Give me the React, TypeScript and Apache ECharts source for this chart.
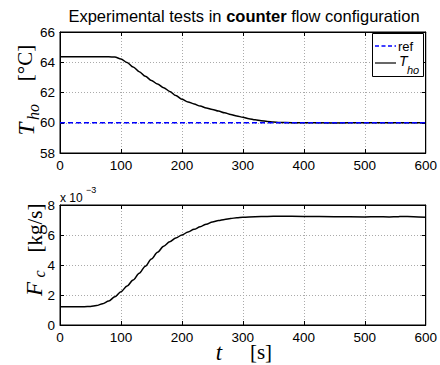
import React, { useEffect, useRef } from "react";
import * as echarts from "echarts";

// ---- data ----
const tTop = [0, 20, 40, 60, 80, 90, 100, 110, 120, 130, 140, 150, 160, 170, 180, 190, 200, 210, 220, 230, 240, 250, 260, 270, 280, 290, 300, 310, 320, 330, 340, 350, 360, 380, 400, 450, 500, 550, 600];
const thoVals = [64.37, 64.37, 64.36, 64.36, 64.36, 64.34, 64.22, 63.98, 63.68, 63.38, 63.07, 62.8, 62.56, 62.32, 62.07, 61.8, 61.56, 61.38, 61.24, 61.1, 60.98, 60.88, 60.77, 60.66, 60.55, 60.45, 60.36, 60.27, 60.2, 60.14, 60.09, 60.05, 60.02, 60.0, 60.0, 59.99, 60.0, 60.0, 60.0];
const refT = [0, 600];
const refVals = [60, 60];
const tBot = [0, 20, 40, 50, 60, 70, 80, 90, 100, 110, 120, 130, 140, 150, 160, 170, 180, 190, 200, 210, 220, 230, 240, 250, 260, 270, 280, 290, 300, 320, 340, 360, 400, 450, 500, 520, 540, 555, 560, 580, 600];
const fcVals = [1.22, 1.22, 1.22, 1.24, 1.3, 1.42, 1.6, 1.88, 2.22, 2.6, 3.0, 3.45, 3.92, 4.4, 4.85, 5.25, 5.55, 5.8, 6.0, 6.2, 6.38, 6.55, 6.72, 6.87, 6.96, 7.04, 7.1, 7.15, 7.18, 7.22, 7.24, 7.25, 7.24, 7.22, 7.2, 7.22, 7.2, 7.22, 7.24, 7.22, 7.18];
const xTicks = { min: 0, max: 600, interval: 100 };
const yTopTicks = { min: 58, max: 66, interval: 2 };
const yBotTicks = { min: 0, max: 8, interval: 2 };

const SANS = "'Liberation Sans', Arial, Helvetica, sans-serif";
const SERIF = "'Liberation Serif', 'Times New Roman', serif";

const zip = (a: number[], b: number[]) => a.map((v, i) => [v, b[i]]);

function axisBase(show: boolean) {
  return {
    type: "value" as const,
    axisLine: { show: true, onZero: false, lineStyle: { color: "#000", width: 1 } },
    axisTick: { show: true, inside: true, length: 4, lineStyle: { color: "#000" } },
    axisLabel: { show, color: "#000", fontSize: 13.5, fontFamily: SANS, margin: 5 },
    splitLine: { show, lineStyle: { color: "#aaaaaa", type: [1, 2], width: 1 } },
  };
}

function txt(x: number, y: number, text: string, font: any, opts: any = {}) {
  return {
    type: "text",
    x,
    y,
    rotation: opts.rotation || 0,
    style: {
      text,
      fill: "#000",
      fontSize: font.size,
      fontFamily: font.family,
      fontStyle: font.style || "normal",
      fontWeight: font.weight || "normal",
      align: opts.align || "center",
      textAlign: opts.align || "center",
      verticalAlign: "middle",
      textVerticalAlign: "middle",
      rich: opts.rich,
    },
  };
}

export default function App() {
  const ref = useRef<HTMLDivElement>(null);
  useEffect(() => {
    const chart = echarts.init(ref.current!, undefined, { renderer: "svg" });
    const grids = [
      { left: 60, top: 32, width: 366, height: 121 },
      { left: 60, top: 205, width: 366, height: 120 },
    ];
    const option: any = {
      animation: false,
      backgroundColor: "#fff",
      grid: grids.map((g) => ({ ...g, show: true, borderColor: "#000", borderWidth: 1, backgroundColor: "transparent" })),
      xAxis: [
        { ...axisBase(true), gridIndex: 0, position: "bottom", ...xTicks },
        { ...axisBase(false), gridIndex: 0, position: "top", ...xTicks },
        { ...axisBase(true), gridIndex: 1, position: "bottom", ...xTicks },
        { ...axisBase(false), gridIndex: 1, position: "top", ...xTicks },
      ],
      yAxis: [
        { ...axisBase(true), gridIndex: 0, position: "left", ...yTopTicks },
        { ...axisBase(false), gridIndex: 0, position: "right", ...yTopTicks },
        { ...axisBase(true), gridIndex: 1, position: "left", ...yBotTicks },
        { ...axisBase(false), gridIndex: 1, position: "right", ...yBotTicks },
      ],
      series: [
        {
          name: "ref",
          type: "line",
          xAxisIndex: 0,
          yAxisIndex: 0,
          data: zip(refT, refVals),
          symbol: "none",
          lineStyle: { color: "#0000ff", width: 1.5, type: [5, 3] },
          z: 3,
        },
        {
          name: "T_ho",
          type: "line",
          xAxisIndex: 0,
          yAxisIndex: 0,
          data: zip(tTop, thoVals),
          symbol: "none",
          smooth: 0.3,
          smoothMonotone: "x",
          lineStyle: { color: "#000", width: 1.5 },
          z: 2,
        },
        {
          name: "F_c",
          type: "line",
          xAxisIndex: 2,
          yAxisIndex: 2,
          data: zip(tBot, fcVals),
          symbol: "none",
          smooth: 0.3,
          smoothMonotone: "x",
          lineStyle: { color: "#000", width: 1.5 },
        },
      ],
      graphic: [
        txt(244, 16, "{a|Experimental tests in }{b|counter}{a| flow configuration}", { size: 16.5, family: SANS }, {
          rich: {
            a: { fontSize: 16.5, fontFamily: SANS, fill: "#000" },
            b: { fontSize: 16.5, fontFamily: SANS, fontWeight: "bold", fill: "#000" },
          },
        }),
        // top y label
        txt(26, 129, "T", { size: 23, family: SERIF, style: "italic" }, { rotation: Math.PI / 2 }),
        txt(33, 112, "ho", { size: 16, family: SERIF, style: "italic" }, { rotation: Math.PI / 2 }),
        txt(25, 63, "[°C]", { size: 21, family: SERIF }, { rotation: Math.PI / 2 }),
        // bottom y label
        txt(34, 289, "F", { size: 23, family: SERIF, style: "italic" }, { rotation: Math.PI / 2 }),
        txt(39, 274, "c", { size: 16, family: SERIF, style: "italic" }, { rotation: Math.PI / 2 }),
        txt(35, 228, "[kg/s]", { size: 21, family: SERIF }, { rotation: Math.PI / 2 }),
        // x label
        txt(219, 352, "t", { size: 23, family: SERIF, style: "italic" }),
        txt(261, 352, "[s]", { size: 21, family: SERIF }),
        // exponent
        txt(60, 198, "x 10", { size: 12, family: SANS }, { align: "left" }),
        txt(86, 190, "−3", { size: 9, family: SANS }, { align: "left" }),
        // legend
        {
          type: "rect",
          shape: { x: 372.5, y: 33.5, width: 51, height: 43 },
          style: { fill: "#fff", stroke: "#000", lineWidth: 1 },
          z: 10,
        },
        {
          type: "line",
          shape: { x1: 375, y1: 46, x2: 396, y2: 46 },
          style: { stroke: "#0000ff", lineWidth: 1.5, lineDash: [4, 2.5] },
          z: 11,
        },
        { ...txt(398, 46, "ref", { size: 13, family: SANS }, { align: "left" }), z: 11 },
        {
          type: "line",
          shape: { x1: 375, y1: 63, x2: 396, y2: 63 },
          style: { stroke: "#000", lineWidth: 1.2 },
          z: 11,
        },
        { ...txt(399, 61, "T", { size: 14, family: SANS, style: "italic" }, { align: "left" }), z: 11 },
        { ...txt(407, 70, "ho", { size: 11, family: SANS, style: "italic" }, { align: "left" }), z: 11 },
      ],
    };
    chart.setOption(option);
    return () => chart.dispose();
  }, []);
  return (
    <div
      ref={ref}
      style={{ position: "absolute", left: 0, top: 0, width: 440, height: 365, background: "#fff" }}
    />
  );
}
